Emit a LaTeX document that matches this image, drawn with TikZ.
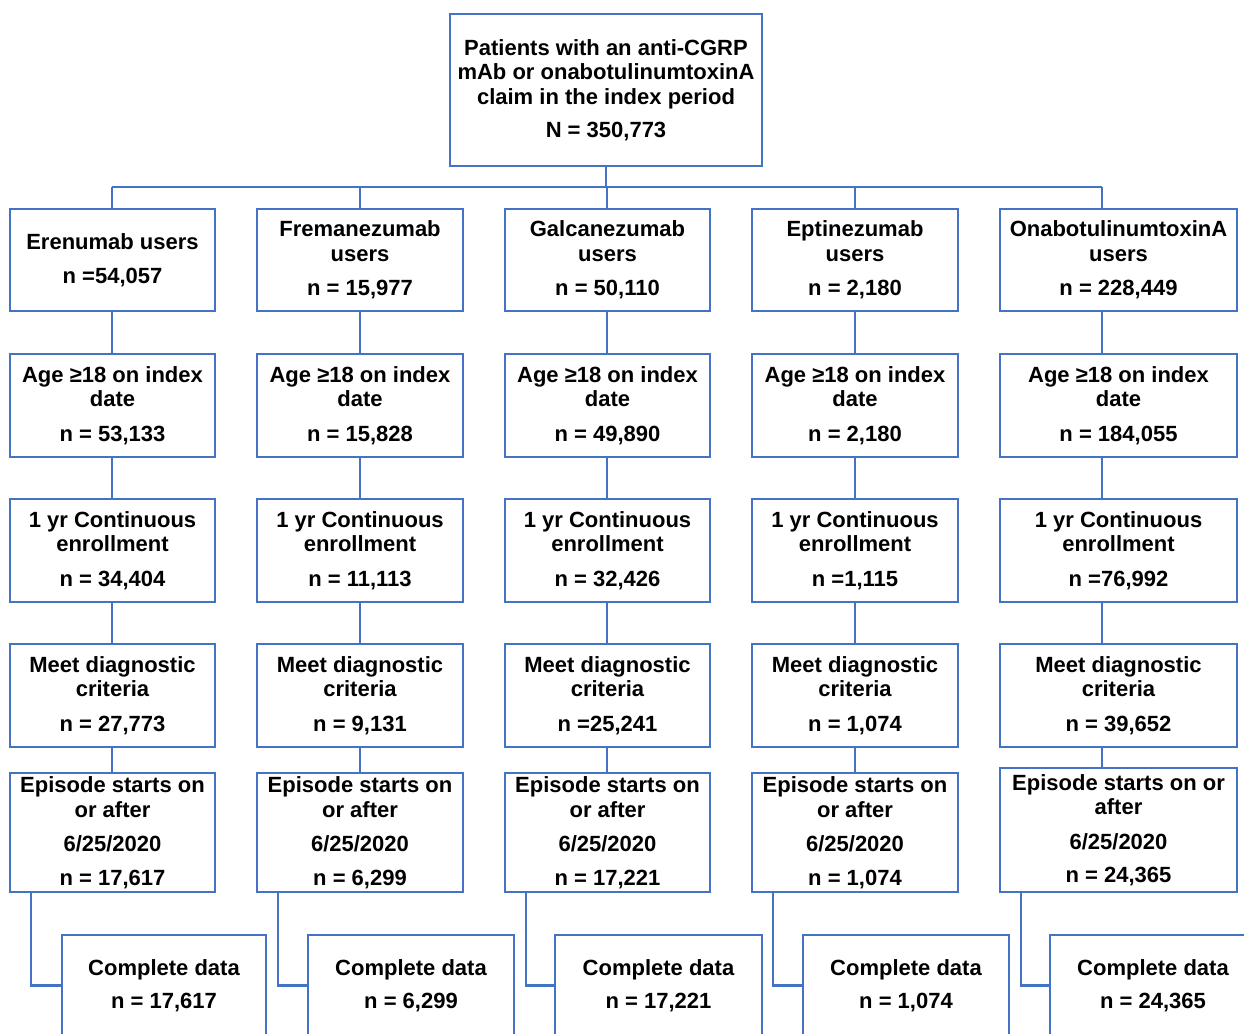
\documentclass[tikz,border=0pt]{standalone}
\usepackage{fontspec}
\setmainfont{Liberation Sans}
\definecolor{boxblue}{HTML}{4472C4}
\begin{document}
\begin{tikzpicture}[x=1pt,y=-1pt,
  box/.style={draw=boxblue,line width=2.6pt,fill=white,inner sep=0pt,outer sep=0pt,
    align=center,font=\fontsize{22}{24.5}\selectfont\bfseries},
  link/.style={draw=boxblue,line width=2.6pt}]
\clip (0,0) rectangle (1244,1033);
\fill[white] (0,0) rectangle (1244,1033);
% top
\node[box,minimum width=312,minimum height=152] (top) at (606,90)
  {Patients with an anti-CGRP\\mAb or onabotulinumtoxinA\\claim in the index period\\[9pt]N = 350,773};
% connector x positions
\foreach \i/\x in {1/112,2/360,3/607,4/855,5/1102}{\coordinate (k\i) at (\x,187);}
\foreach \i/\x in {1/31,2/278,3/526,4/773,5/1021}{\coordinate (d\i) at (\x,985);}
% row 1
\node[box,minimum width=205,minimum height=102] (a1) at (112.5,260) {Erenumab users\\[10pt]n =54,057};
\node[box,minimum width=206,minimum height=102] (a2) at (360,260) {Fremanezumab\\users\\[10pt]n = 15,977};
\node[box,minimum width=205,minimum height=102] (a3) at (607.5,260) {Galcanezumab\\users\\[10pt]n = 50,110};
\node[box,minimum width=206,minimum height=102] (a4) at (855,260) {Eptinezumab\\users\\[10pt]n = 2,180};
\node[box,minimum width=237,minimum height=102] (a5) at (1118.5,260) {OnabotulinumtoxinA\\users\\[10pt]n = 228,449};
% row 2
\node[box,minimum width=205,minimum height=103] (b1) at (112.5,405.5) {Age ≥18 on index\\date\\[10pt]n = 53,133};
\node[box,minimum width=206,minimum height=103] (b2) at (360,405.5) {Age ≥18 on index\\date\\[10pt]n = 15,828};
\node[box,minimum width=205,minimum height=103] (b3) at (607.5,405.5) {Age ≥18 on index\\date\\[10pt]n = 49,890};
\node[box,minimum width=206,minimum height=103] (b4) at (855,405.5) {Age ≥18 on index\\date\\[10pt]n = 2,180};
\node[box,minimum width=237,minimum height=103] (b5) at (1118.5,405.5) {Age ≥18 on index\\date\\[10pt]n = 184,055};
% row 3
\node[box,minimum width=205,minimum height=103] (c1) at (112.5,550.5) {1 yr Continuous\\enrollment\\[10pt]n = 34,404};
\node[box,minimum width=206,minimum height=103] (c2) at (360,550.5) {1 yr Continuous\\enrollment\\[10pt]n = 11,113};
\node[box,minimum width=205,minimum height=103] (c3) at (607.5,550.5) {1 yr Continuous\\enrollment\\[10pt]n = 32,426};
\node[box,minimum width=206,minimum height=103] (c4) at (855,550.5) {1 yr Continuous\\enrollment\\[10pt]n =1,115};
\node[box,minimum width=237,minimum height=103] (c5) at (1118.5,550.5) {1 yr Continuous\\enrollment\\[10pt]n =76,992};
% row 4
\node[box,minimum width=205,minimum height=103] (m1) at (112.5,695.5) {Meet diagnostic\\criteria\\[10pt]n = 27,773};
\node[box,minimum width=206,minimum height=103] (m2) at (360,695.5) {Meet diagnostic\\criteria\\[10pt]n = 9,131};
\node[box,minimum width=205,minimum height=103] (m3) at (607.5,695.5) {Meet diagnostic\\criteria\\[10pt]n =25,241};
\node[box,minimum width=206,minimum height=103] (m4) at (855,695.5) {Meet diagnostic\\criteria\\[10pt]n = 1,074};
\node[box,minimum width=237,minimum height=103] (m5) at (1118.5,695.5) {Meet diagnostic\\criteria\\[10pt]n = 39,652};
% row 5
\node[box,minimum width=205,minimum height=119] (e1) at (112.5,832.5) {Episode starts on\\or after\\[10pt]6/25/2020\\[9pt]n = 17,617};
\node[box,minimum width=206,minimum height=119] (e2) at (360,832.5) {Episode starts on\\or after\\[10pt]6/25/2020\\[9pt]n = 6,299};
\node[box,minimum width=205,minimum height=119] (e3) at (607.5,832.5) {Episode starts on\\or after\\[10pt]6/25/2020\\[9pt]n = 17,221};
\node[box,minimum width=206,minimum height=119] (e4) at (855,832.5) {Episode starts on\\or after\\[10pt]6/25/2020\\[9pt]n = 1,074};
\node[box,minimum width=237,minimum height=124] (e5) at (1118.5,830) {Episode starts on or\\after\\[10pt]6/25/2020\\[9pt]n = 24,365};
% row 6
\node[box,minimum width=204,minimum height=101] (f1) at (164,985.5) {Complete data\\[9pt]n = 17,617};
\node[box,minimum width=206,minimum height=101] (f2) at (411,985.5) {Complete data\\[9pt]n = 6,299};
\node[box,minimum width=207,minimum height=101] (f3) at (658.5,985.5) {Complete data\\[9pt]n = 17,221};
\node[box,minimum width=206,minimum height=101] (f4) at (906,985.5) {Complete data\\[9pt]n = 1,074};
\node[box,minimum width=206,minimum height=101] (f5) at (1153,985.5) {Complete data\\[9pt]n = 24,365};
% connectors
\draw[link] (top.south) -- (top.south |- k1);
\draw[link] (k1) -- (k5);
\foreach \i in {1,...,5}{
  \draw[link] (k\i) -- (a\i.north -| k\i);
  \draw[link] (a\i.south -| k\i) -- (b\i.north -| k\i);
  \draw[link] (b\i.south -| k\i) -- (c\i.north -| k\i);
  \draw[link] (c\i.south -| k\i) -- (m\i.north -| k\i);
  \draw[link] (m\i.south -| k\i) -- (e\i.north -| k\i);
  \draw[link] (e\i.south -| d\i) |- (f\i.west);
}
\end{tikzpicture}
\end{document}
